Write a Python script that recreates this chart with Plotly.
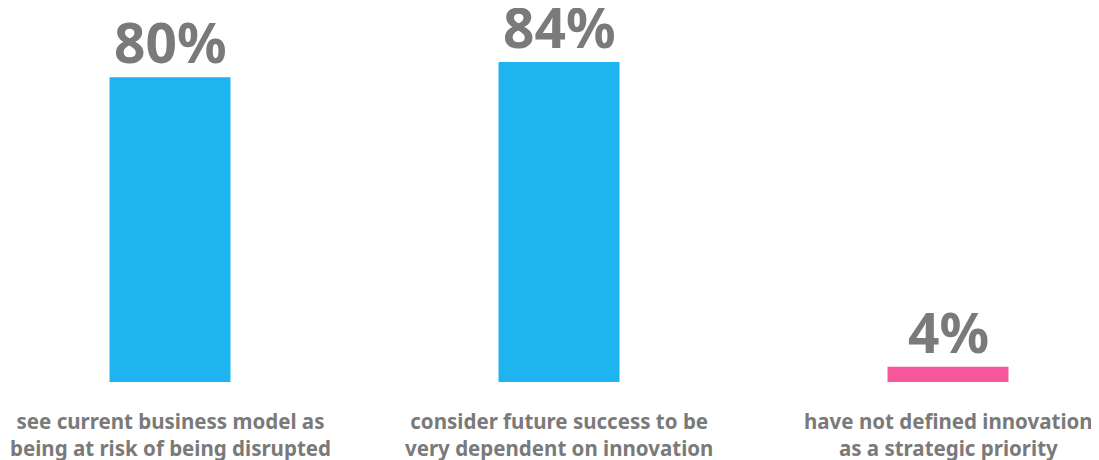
import plotly.graph_objects as go

categories = [
    "see current business model as<br>being at risk of being disrupted",
    "consider future success to be<br>very dependent on innovation",
    "have not defined innovation<br>as a strategic priority",
]
values = [80, 84, 4]
value_labels = ["80%", "84%", "4%"]
colors = ["#1EB4F0", "#1EB4F0", "#F7579B"]

x = list(range(len(values)))
grey = "#7A7A7A"
font = "Noto Sans"

fig = go.Figure()
fig.add_trace(go.Bar(
    x=x, y=values, width=0.311, marker=dict(color=colors, line=dict(width=0)),
    hoverinfo="skip",
))

for i, (v, lab, cat) in enumerate(zip(values, value_labels, categories)):
    fig.add_annotation(x=i, y=v, text=lab, showarrow=False, yanchor="bottom",
                       yshift=-4, font=dict(family=font, size=55, color=grey, weight="bold"))
    fig.add_annotation(x=i, y=0, text=cat, showarrow=False, yanchor="top",
                       yshift=-23, font=dict(family=font, size=20.5, color=grey, weight="bold"))

fig.update_layout(
    width=1083, height=452,
    margin=dict(l=0, r=0, t=0, b=78),
    paper_bgcolor="white", plot_bgcolor="white",
    showlegend=False,
    xaxis=dict(range=[-0.4165, 2.3676], visible=False),
    yaxis=dict(range=[0, 98.2], visible=False),
)
fig.write_html("out.html")
